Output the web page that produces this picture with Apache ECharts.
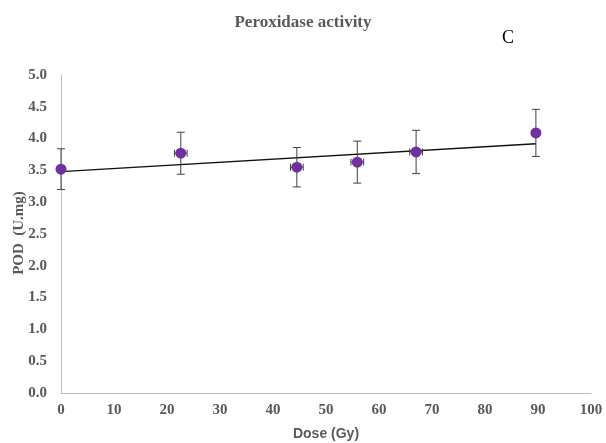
<!DOCTYPE html>
<html>
<head>
<meta charset="utf-8">
<script src="https://cdn.jsdelivr.net/npm/echarts@6/dist/echarts.min.js"></script>
<style>html,body{margin:0;padding:0;background:#fff}#c{width:606px;height:443px}</style>
</head>
<body>
<div id="c"></div>
<script>
// Data
var doses = [0, 22.6, 44.5, 55.9, 67.0, 89.6];
var podValues = [3.52, 3.77, 3.55, 3.63, 3.79, 4.09];
var podErrors = [0.32, 0.33, 0.31, 0.33, 0.34, 0.37];
var doseErrors = [0, 1.2, 1.2, 1.2, 1.2, 0];
var trendX = [0, 89.6];
var trendY = [3.48, 3.92];
var xTicks = [0, 10, 20, 30, 40, 50, 60, 70, 80, 90, 100];
var yTicks = [0.0, 0.5, 1.0, 1.5, 2.0, 2.5, 3.0, 3.5, 4.0, 4.5, 5.0];

var points = doses.map(function (d, i) { return [d, podValues[i]]; });
var errData = doses.map(function (d, i) { return [d, podValues[i], podErrors[i], doseErrors[i]]; });
var trend = trendX.map(function (x, i) { return [x, trendY[i]]; });

var serif = '"Liberation Serif", "Times New Roman", serif';
var chart = echarts.init(document.getElementById('c'), null, {renderer: 'canvas'});
chart.setOption({
  animation: false,
  backgroundColor: '#ffffff',
  title: [
    {text: 'Peroxidase activity', left: 298, top: 9, textAlign: 'center',
     textStyle: {fontFamily: serif, fontWeight: 'bold', fontSize: 17, color: '#595959'}},
    {text: 'C', left: 503, top: 24, textAlign: 'center',
     textStyle: {fontFamily: serif, fontWeight: 'normal', fontSize: 18, color: '#000'}}
  ],
  graphic: [{
    type: 'text', x: 19, y: 233, rotation: Math.PI / 2,
    style: {text: 'POD  (U.mg)', align: 'center', verticalAlign: 'middle',
      font: 'bold 15px "Liberation Serif", "Times New Roman", serif', fill: '#595959'}
  }],
  grid: {left: 61, right: 15, top: 75, bottom: 50, outerBoundsMode: 'none', containLabel: false},
  xAxis: {
    type: 'value', min: xTicks[0], max: xTicks[xTicks.length - 1], interval: 10,
    name: 'Dose (Gy)', nameLocation: 'middle', nameGap: 34,
    nameTextStyle: {fontFamily: '"Liberation Sans", Arial, sans-serif', fontWeight: 'bold', fontSize: 14, color: '#595959'},
    axisLine: {show: true, lineStyle: {color: '#bfbfbf', width: 1}},
    axisTick: {show: false},
    splitLine: {show: false},
    axisLabel: {margin: 10, fontFamily: serif, fontWeight: 'bold', fontSize: 15, color: '#595959'}
  },
  yAxis: {
    type: 'value', min: yTicks[0], max: yTicks[yTicks.length - 1], interval: 0.5,
    axisLine: {show: true, lineStyle: {color: '#bfbfbf', width: 1}},
    axisTick: {show: false},
    splitLine: {show: false},
    axisLabel: {margin: 14, fontFamily: serif, fontWeight: 'bold', fontSize: 15, color: '#595959',
      formatter: function (v) { return v.toFixed(1); }}
  },
  series: [
    {
      type: 'line', data: trend, symbol: 'none', z: 3,
      lineStyle: {color: '#111111', width: 1.4}
    },
    {
      type: 'custom', z: 4,
      renderItem: function (params, api) {
        var x = api.value(0), y = api.value(1), e = api.value(2), ex = api.value(3);
        var top = api.coord([x, y + e]);
        var bot = api.coord([x, y - e]);
        var cap = 4;
        var style = {stroke: '#404040', lineWidth: 1};
        var children = [
          {type: 'line', shape: {x1: top[0], y1: top[1], x2: bot[0], y2: bot[1]}, style: style},
          {type: 'line', shape: {x1: top[0] - cap, y1: top[1], x2: top[0] + cap, y2: top[1]}, style: style},
          {type: 'line', shape: {x1: bot[0] - cap, y1: bot[1], x2: bot[0] + cap, y2: bot[1]}, style: style}
        ];
        if (ex > 0) {
          var l = api.coord([x - ex, y]);
          var r = api.coord([x + ex, y]);
          children.push({type: 'line', shape: {x1: l[0], y1: l[1], x2: r[0], y2: r[1]}, style: style});
          children.push({type: 'line', shape: {x1: l[0], y1: l[1] - 3.5, x2: l[0], y2: l[1] + 3.5}, style: style});
          children.push({type: 'line', shape: {x1: r[0], y1: r[1] - 3.5, x2: r[0], y2: r[1] + 3.5}, style: style});
        }
        return {type: 'group', children: children};
      },
      encode: {x: 0, y: 1},
      data: errData
    },
    {
      type: 'scatter', data: points, z: 5,
      symbol: 'circle', symbolSize: 11,
      itemStyle: {color: '#7030A0', opacity: 1}
    }
  ]
});
</script>
</body>
</html>
